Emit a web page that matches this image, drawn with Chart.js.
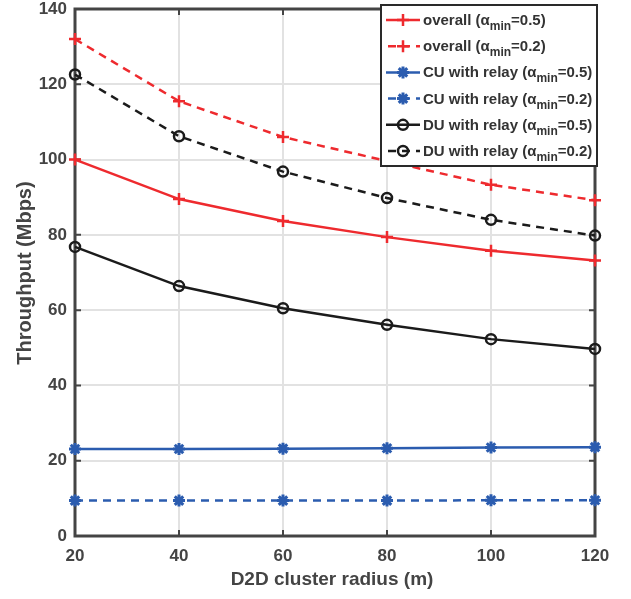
<!DOCTYPE html>
<html>
<head>
<meta charset="utf-8">
<script src="https://cdn.jsdelivr.net/npm/chart.js@4.4.1/dist/chart.umd.min.js"></script>
<style>
  html, body { margin: 0; padding: 0; background: #fff; }
  #wrap { width: 631px; height: 599px; }
</style>
</head>
<body>
<div id="wrap"><canvas id="c" width="631" height="599"></canvas></div>
<script>
const radius = [20, 40, 60, 80, 100, 120];
const overall05 = [100, 89.5, 83.7, 79.4, 75.8, 73.2];
const overall02 = [132, 115.5, 106, 99.6, 93.3, 89.2];
const cu05 = [23.1, 23.1, 23.2, 23.3, 23.5, 23.6];
const cu02 = [9.4, 9.4, 9.4, 9.4, 9.5, 9.5];
const du05 = [76.8, 66.4, 60.5, 56.1, 52.3, 49.7];
const du02 = [122.6, 106.2, 96.8, 89.8, 84.0, 79.8];
const yTicks = [0, 20, 40, 60, 80, 100, 120, 140];

const RED = "#ee2a2e", BLUE = "#2b5caf", BLACK = "#1b1b1b", AXIS = "#444444";
const DASH = [8, 6];
const FONT = "'Liberation Sans', Arial, sans-serif";

function series(label, vals, color, dashed, style) {
  const hollow = style === "circle";
  return {
    label: label,
    data: radius.map((x, i) => ({ x: x, y: vals[i] })),
    borderColor: color,
    backgroundColor: hollow ? "rgba(0,0,0,0)" : color,
    borderWidth: 2.5,
    borderDash: dashed ? DASH : [],
    pointStyle: style,
    pointRadius: hollow ? 5 : 6,
    pointBorderWidth: style === "star" ? 3 : 2.5,
    pointBorderColor: color,
    pointBackgroundColor: hollow ? "rgba(0,0,0,0)" : color,
    tension: 0,
    fill: false,
    clip: false
  };
}

const datasets = [
  series("overall (α_min=0.5)", overall05, RED, false, "cross"),
  series("overall (α_min=0.2)", overall02, RED, true, "cross"),
  series("CU with relay (α_min=0.5)", cu05, BLUE, false, "star"),
  series("CU with relay (α_min=0.2)", cu02, BLUE, true, "star"),
  series("DU with relay (α_min=0.5)", du05, BLACK, false, "circle"),
  series("DU with relay (α_min=0.2)", du02, BLACK, true, "circle")
];

function drawMarker(ctx, style, r, x, y) {
  ctx.beginPath();
  if (style === "cross") {
    ctx.moveTo(x - r, y); ctx.lineTo(x + r, y);
    ctx.moveTo(x, y - r); ctx.lineTo(x, y + r);
  } else if (style === "circle") {
    ctx.arc(x, y, r, 0, Math.PI * 2);
  } else {
    for (let k = 0; k < 4; k++) {
      const t = k * Math.PI / 4;
      ctx.moveTo(x - r * Math.cos(t), y - r * Math.sin(t));
      ctx.lineTo(x + r * Math.cos(t), y + r * Math.sin(t));
    }
  }
  ctx.stroke();
}

const framePlugin = {
  id: "frame",
  beforeDatasetsDraw(chart) {
    const { ctx, chartArea: a, scales } = chart;
    ctx.save();
    ctx.strokeStyle = AXIS;
    ctx.lineWidth = 3;
    ctx.strokeRect(a.left, a.top, a.right - a.left, a.bottom - a.top);
    ctx.lineWidth = 2;
    radius.forEach(v => {
      const x = scales.x.getPixelForValue(v);
      ctx.beginPath();
      ctx.moveTo(x, a.bottom); ctx.lineTo(x, a.bottom - 6);
      ctx.moveTo(x, a.top); ctx.lineTo(x, a.top + 6);
      ctx.stroke();
    });
    yTicks.forEach(v => {
      const y = scales.y.getPixelForValue(v);
      ctx.beginPath();
      ctx.moveTo(a.left, y); ctx.lineTo(a.left + 6, y);
      ctx.moveTo(a.right, y); ctx.lineTo(a.right - 6, y);
      ctx.stroke();
    });

    // axis titles
    ctx.fillStyle = AXIS;
    ctx.textAlign = "center";
    ctx.textBaseline = "middle";
    ctx.font = "bold 19px " + FONT;
    ctx.fillText("D2D cluster radius (m)", 332, 580);
    ctx.save();
    ctx.translate(25, 273);
    ctx.rotate(-Math.PI / 2);
    ctx.font = "bold 20px " + FONT;
    ctx.fillText("Throughput (Mbps)", 0, 0);
    ctx.restore();
    ctx.restore();
  },
  afterDatasetsDraw(chart) {
    const { ctx } = chart;
    ctx.save();
    const bx = 381, by = 5, bw = 216, bh = 161, rowH = 26.2;
    ctx.fillStyle = "#fff";
    ctx.fillRect(bx, by, bw, bh);
    ctx.strokeStyle = "#2a2a2a";
    ctx.lineWidth = 2;
    ctx.strokeRect(bx, by, bw, bh);
    chart.data.datasets.forEach((ds, i) => {
      const y = by + 15 + i * rowH;
      ctx.strokeStyle = ds.borderColor;
      ctx.lineWidth = 2.5;
      ctx.setLineDash(ds.borderDash.length ? DASH : []);
      ctx.beginPath();
      ctx.moveTo(ds.borderDash.length ? 388 : 386, y);
      ctx.lineTo(420, y);
      ctx.stroke();
      ctx.setLineDash([]);
      ctx.strokeStyle = ds.pointBorderColor;
      ctx.lineWidth = ds.pointBorderWidth;
      drawMarker(ctx, ds.pointStyle, ds.pointRadius, 403, y);

      const parts = ds.label.split("_min");
      ctx.fillStyle = "#333";
      ctx.textAlign = "left";
      ctx.textBaseline = "alphabetic";
      ctx.font = "bold 15px " + FONT;
      let x = 423;
      ctx.fillText(parts[0], x, y + 5);
      x += ctx.measureText(parts[0]).width;
      ctx.font = "bold 12px " + FONT;
      ctx.fillText("min", x, y + 10);
      x += ctx.measureText("min").width;
      ctx.font = "bold 15px " + FONT;
      ctx.fillText(parts[1], x, y + 5);
    });
    ctx.restore();
  }
};

new Chart(document.getElementById("c"), {
  type: "line",
  data: { datasets: datasets },
  plugins: [framePlugin],
  options: {
    responsive: false,
    animation: false,
    devicePixelRatio: 1,
    layout: { padding: { top: 8, right: 36, left: 0, bottom: 0 } },
    plugins: { legend: { display: false }, tooltip: { enabled: false } },
    scales: {
      x: {
        type: "linear",
        min: 20, max: 120,
        afterFit: s => { s.height = 63; s.paddingLeft = 0; s.paddingRight = 0; },
        afterBuildTicks: s => { s.ticks = radius.map(v => ({ value: v })); },
        grid: { color: "#e2e2e2", lineWidth: 2, drawTicks: false },
        border: { display: false },
        ticks: { color: AXIS, font: { family: FONT, size: 17, weight: "bold" }, padding: 10 },
        title: { display: false }
      },
      y: {
        type: "linear",
        min: 0, max: 140,
        afterFit: s => { s.width = 75; s.paddingTop = 0; s.paddingBottom = 0; },
        afterBuildTicks: s => { s.ticks = yTicks.map(v => ({ value: v })); },
        grid: { color: "#e2e2e2", lineWidth: 2, drawTicks: false },
        border: { display: false },
        ticks: { color: AXIS, font: { family: FONT, size: 17, weight: "bold" }, padding: 8 },
        title: { display: false }
      }
    }
  }
});
</script>
</body>
</html>
